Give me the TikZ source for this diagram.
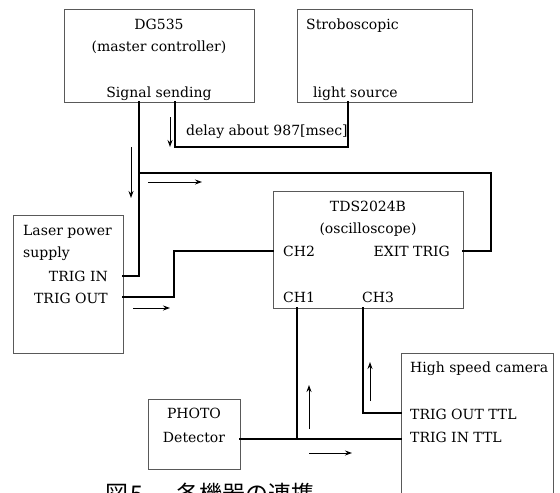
\documentclass[tikz,border=0pt]{standalone}
\usepackage{fontspec}
\setmainfont{DejaVu Serif}
\newfontfamily\cjk{Noto Sans CJK JP}
\usetikzlibrary{arrows.meta}
\begin{document}
\begin{tikzpicture}[x=1pt,y=-1pt,
  box/.style={draw=black!65, line width=0.8pt, inner sep=0pt, outer sep=0pt},
  lbl/.style={font=\fontsize{14}{16}\selectfont, inner sep=0pt, anchor=base west},
  lblr/.style={lbl, anchor=base east},
  lblc/.style={lbl, anchor=base},
  wire/.style={line width=2.2pt, line join=miter, line cap=rect},
  flow/.style={line width=0.9pt, -{Stealth[length=7pt,width=5pt]}}]
\useasboundingbox (0,0) rectangle (560,493);
% boxes
\node[box, minimum width=190pt, minimum height=93pt] (dg) at (159,55.5) {};
\node[box, minimum width=175pt, minimum height=93pt] (strobe) at (384.5,55.5) {};
\node[box, minimum width=110pt, minimum height=138pt] (laser) at (68,284) {};
\node[box, minimum width=190pt, minimum height=117pt] (tds) at (368,249.5) {};
\node[box, minimum width=92pt, minimum height=70pt] (photo) at (194,434) {};
\node[box, minimum width=152pt, minimum height=157pt] (cam) at (477,431.5) {};
% texts
\node[lblc] (t1) at (159,29) {DG535};
\node[lblc] (t2) at (159,51) {(master controller)};
\node[lblc] (t3) at (159,97) {Signal sending};
\node[lbl] (t4) at (306,29) {Stroboscopic};
\node[lbl] (t5) at (313,97) {light source};
\node[lbl] (t6) at (186,135) {delay about 987[msec]};
\node[lbl] (t7) at (23,235) {Laser power};
\node[lbl] (t8) at (23,257) {supply};
\node[lblr] (t9) at (108,281) {TRIG IN};
\node[lblr] (t10) at (108,303) {TRIG OUT};
\node[lblc] (t11) at (368,211) {TDS2024B};
\node[lblc] (t12) at (368,233) {(oscilloscope)};
\node[lbl] (t13) at (283,256) {CH2};
\node[lblr] (t14) at (450,256) {EXIT TRIG};
\node[lbl] (t15) at (283,302) {CH1};
\node[lbl] (t16) at (362,302) {CH3};
\node[lblc] (t17) at (194,418) {PHOTO};
\node[lblc] (t18) at (194,442) {Detector};
\node[lbl] (t19) at (410,372) {High speed camera};
\node[lbl] (t20) at (410,419) {TRIG OUT TTL};
\node[lbl] (t21) at (410,442) {TRIG IN TTL};
\node[inner sep=0pt, anchor=base west, font=\cjk\fontsize{23}{23}\selectfont] (cap) at (105,502) {図\hspace{2pt}5\hspace{34pt}各機器の連携};
% ports
\coordinate (dgA) at (139,102);
\coordinate (dgB) at (175,102);
\coordinate (stA) at (348,102);
\coordinate (lzIn) at (123,276);
\coordinate (lzOut) at (123,297);
\coordinate (ch2) at (273,251);
\coordinate (exit) at (463,251);
\coordinate (ch1) at (297,308);
\coordinate (ch3) at (363,308);
\coordinate (phOut) at (240,439);
\coordinate (camOut) at (401,413);
\coordinate (camIn) at (401,439);
\coordinate (br) at (139,173);
\coordinate (j1) at (297,439);
% wires
\draw[wire] (dgA) |- (lzIn);
\draw[wire] (br) -| (491,251) -- (exit);
\draw[wire] (dgB) |- (348,147) -- (stA);
\draw[wire] (lzOut) -| (174,251) -- (ch2);
\draw[wire] (ch1) -- (j1);
\draw[wire] (phOut) -- (camIn);
\draw[wire] (ch3) |- (camOut);
% flow arrows
\draw[flow] (170,117) -- (170,147);
\draw[flow] (131,147) -- (131,198);
\draw[flow] (148,182) -- (202,182);
\draw[flow] (133,308) -- (170,308);
\draw[flow] (309,429) -- (309,385);
\draw[flow] (370,401) -- (370,362);
\draw[flow] (309,453) -- (352,453);
\end{tikzpicture}
\end{document}
